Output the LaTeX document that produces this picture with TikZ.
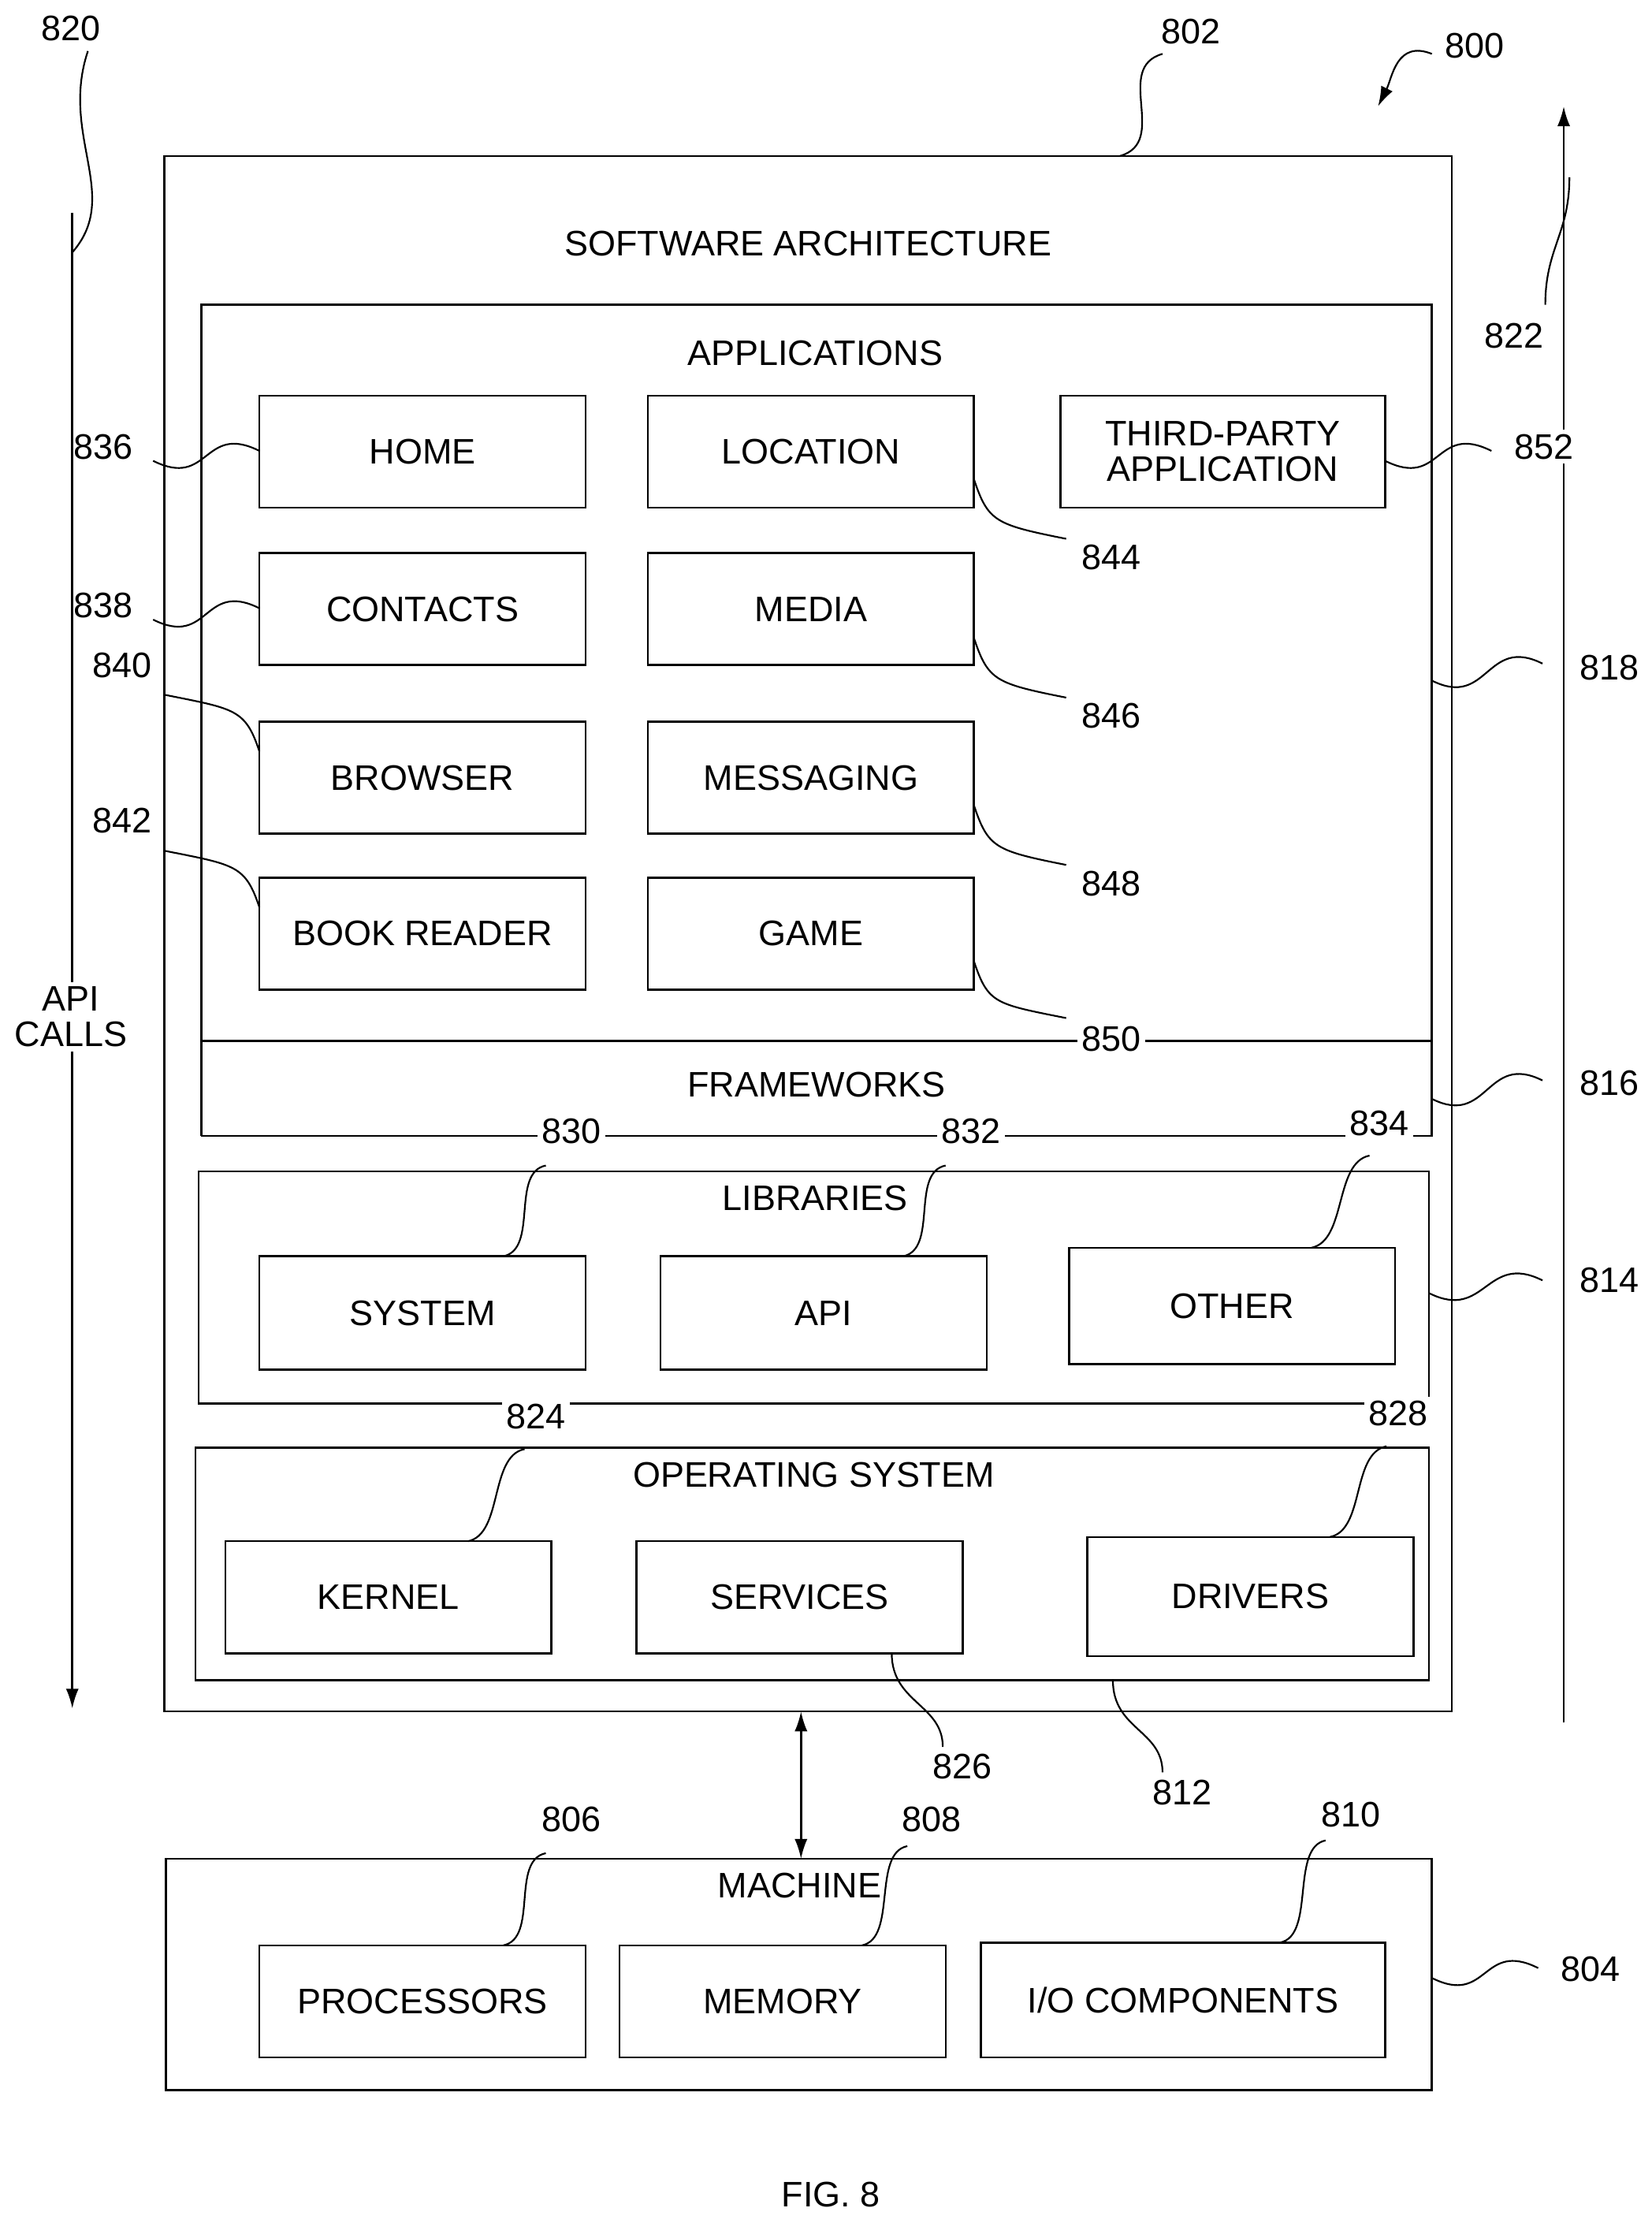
\documentclass[tikz,border=0pt]{standalone}
\usepackage{fontspec}
\setmainfont{Liberation Sans}
\usetikzlibrary{arrows.meta}
\begin{document}
\begin{tikzpicture}[x=1pt,y=-1pt,line width=1.4pt,
  lbl/.style={font=\fontsize{25}{29}\selectfont,align=center},
  num/.style={font=\fontsize{25}{29}\selectfont,fill=white,inner sep=3pt},
  arr/.style={-{Latex[length=14pt,width=9pt]}}]
\useasboundingbox (0,0) rectangle (1165,1565);
\newcommand\bx[6]{\draw (#2,#3) rectangle (#4,#5); \node[lbl] (#1) at ({(#2+#4)/2},{(#3+#5)/2}) {#6};}
\newcommand\lead[4]{\draw[line width=1.2pt] (#1) .. controls +(#3) and +(#4) .. (#2);}
% outer
\draw (116,110) rectangle (1024,1207);
\node[lbl] (sa) at (570,172) {SOFTWARE ARCHITECTURE};
% applications/frameworks
\draw (142,801) -- (142,215) -- (1010,215) -- (1010,801) -- (142,801);
\draw (142,734) -- (1010,734);
\node[lbl] (apps) at (575,249) {APPLICATIONS};
\node[lbl] (fw) at (576,765) {FRAMEWORKS};
\bx{home}{183}{279}{413}{358}{HOME}
\bx{loc}{457}{279}{687}{358}{LOCATION}
\bx{tp}{748}{279}{977}{358}{THIRD-PARTY\\[-4pt]APPLICATION}
\bx{con}{183}{390}{413}{469}{CONTACTS}
\bx{med}{457}{390}{687}{469}{MEDIA}
\bx{bro}{183}{509}{413}{588}{BROWSER}
\bx{msg}{457}{509}{687}{588}{MESSAGING}
\bx{book}{183}{619}{413}{698}{BOOK READER}
\bx{game}{457}{619}{687}{698}{GAME}
% libraries
\draw (140,826) rectangle (1008,990);
\node[lbl] (lib) at (575,845) {LIBRARIES};
\bx{sys}{183}{886}{413}{966}{SYSTEM}
\bx{api}{466}{886}{696}{966}{API}
\bx{oth}{754}{880}{984}{962}{OTHER}
% OS
\draw (138,1021) rectangle (1008,1185);
\node[lbl] (os) at (574,1040) {OPERATING SYSTEM};
\bx{ker}{159}{1087}{389}{1166}{KERNEL}
\bx{ser}{449}{1087}{679}{1166}{SERVICES}
\bx{drv}{767}{1084}{997}{1168}{DRIVERS}
% machine
\draw (117,1311) rectangle (1010,1474);
\node[lbl] (mac) at (564,1330) {MACHINE};
\bx{proc}{183}{1372}{413}{1451}{PROCESSORS}
\bx{mem}{437}{1372}{667}{1451}{MEMORY}
\bx{io}{692}{1370}{977}{1451}{I/O COMPONENTS}
% arrows
\coordinate (swb) at (565,1207); \coordinate (mt) at (565,1311);
\draw[{Latex[length=14pt,width=9pt]}-{Latex[length=14pt,width=9pt]}] (swb) -- (mt);
\coordinate (l1) at (51,150); \coordinate (l2) at (51,1205);
\draw[arr] (l1) -- (l2);
\node[lbl,fill=white] (apic) at (50,717) {API\\[-4pt]CALLS};
\coordinate (r1) at (1103,1215); \coordinate (r2) at (1103,75);
\draw[arr] (r1) -- (r2);
% numbers
\node[num] (n850) at (784,733) {850};
\node[num] (n830) at (403,798) {830};
\node[num] (n832) at (685,798) {832};
\node[num] (n834) at (973,792) {834};
\node[num] (n824) at (378,999) {824};
\node[num] (n828) at (986,997) {828};
\node[num] (n820) at (50,20) {820};
\node[num] (n802) at (840,22) {802};
\node[num] (n800) at (1040,32) {800};
\node[num] (n822) at (1068,237) {822};
\node[num,fill=none] (n836) at (73,315) {836};
\node[num,fill=none] (n838) at (73,427) {838};
\node[num] (n840) at (86,469) {840};
\node[num] (n842) at (86,579) {842};
\node[num] (n844) at (784,393) {844};
\node[num] (n846) at (784,505) {846};
\node[num] (n848) at (784,623) {848};
\node[num] (n852) at (1089,315) {852};
\node[num] (n818) at (1135,471) {818};
\node[num] (n816) at (1135,764) {816};
\node[num] (n814) at (1135,903) {814};
\node[num] (n804) at (1122,1389) {804};
\node[num] (n826) at (679,1246) {826};
\node[num] (n812) at (834,1264) {812};
\node[num] (n806) at (403,1283) {806};
\node[num] (n808) at (657,1283) {808};
\node[num] (n810) at (953,1280) {810};
\node[lbl] (fig) at (586,1548) {FIG. 8};
% leaders
\lead{51,178}{62,36}{35,-40}{-20,60}
\lead{790,110}{820,38}{35,-10}{-35,10}
\draw[arr,line width=1.2pt] (1010,38) .. controls +(-25,-10) and +(10,-20) .. (972,75);
\lead{1090,215}{1107,125}{0,-40}{0,40}
\lead{108,325}{183,318}{40,20}{-40,-20}
\lead{108,437}{183,429}{40,20}{-40,-20}
\lead{116,490}{183,530}{50,10}{-10,-30}
\lead{116,600}{183,640}{50,10}{-10,-30}
\lead{687,338}{752,380}{10,30}{-50,-10}
\lead{687,450}{752,492}{10,30}{-50,-10}
\lead{687,568}{752,610}{10,30}{-50,-10}
\lead{687,678}{752,718}{10,30}{-50,-10}
\lead{977,325}{1052,318}{40,20}{-40,-20}
\lead{1010,480}{1088,468}{40,20}{-40,-20}
\lead{1010,775}{1088,762}{40,20}{-40,-20}
\lead{1008,912}{1088,903}{40,20}{-40,-20}
\lead{1010,1395}{1085,1388}{40,20}{-40,-20}
\lead{355,886}{385,822}{25,-5}{-25,5}
\lead{637,886}{667,822}{25,-5}{-25,5}
\lead{925,880}{966,815}{25,-5}{-25,5}
\lead{330,1087}{370,1022}{25,-5}{-25,5}
\lead{938,1084}{978,1020}{25,-5}{-25,5}
\lead{629,1166}{665,1232}{0,35}{0,-30}
\lead{785,1185}{820,1250}{0,35}{0,-30}
\lead{355,1372}{385,1307}{25,-5}{-25,5}
\lead{608,1372}{640,1302}{25,-5}{-25,5}
\lead{903,1370}{935,1298}{25,-5}{-25,5}
\end{tikzpicture}
\end{document}
